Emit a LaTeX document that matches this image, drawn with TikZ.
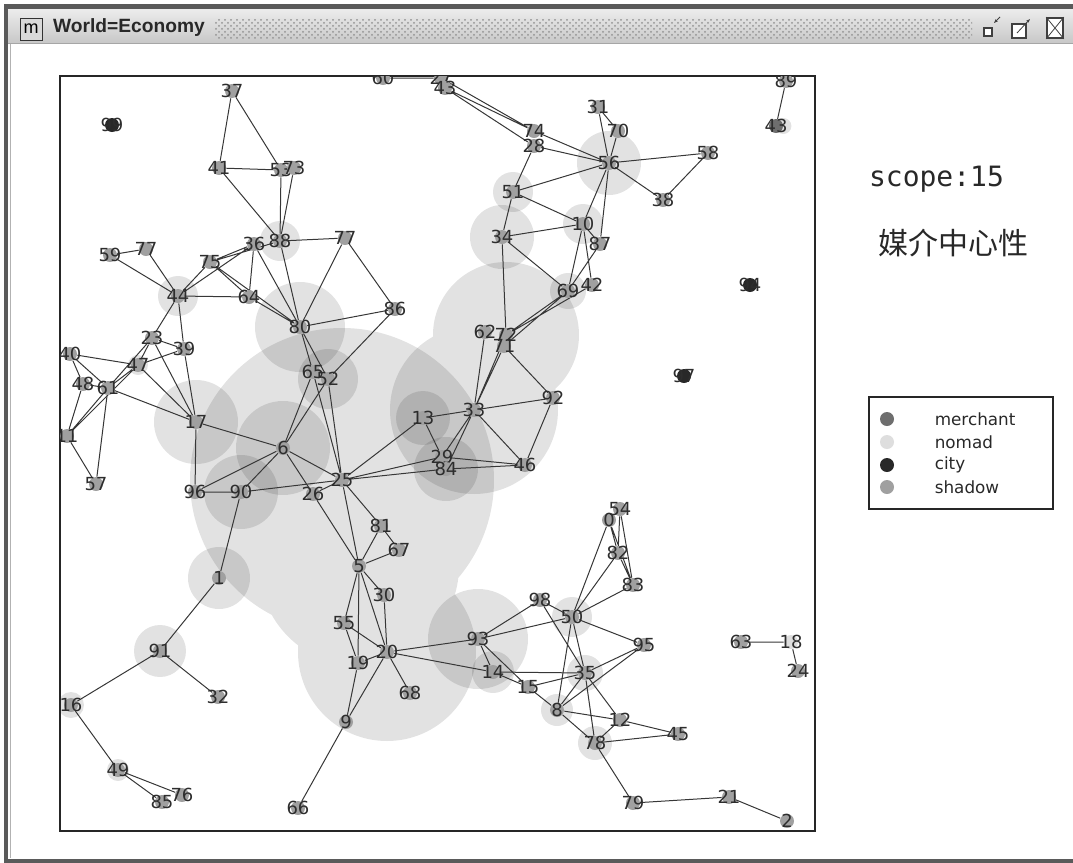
\documentclass[tikz,border=0pt]{standalone}
\usepackage{fontspec}
\setmainfont{DejaVu Sans}
\newfontfamily\monofont{DejaVu Sans Mono}
\newfontfamily\cjkfont{Noto Sans CJK SC}
\newfontfamily\titlefont{Liberation Sans}
\usepackage{tikz}
\usetikzlibrary{positioning, patterns, arrows.meta}
\pgfdeclarelayer{halo}
\pgfdeclarelayer{edges}
\pgfsetlayers{halo,edges,main}
\definecolor{framegray}{RGB}{90, 90, 90}
\definecolor{barlight}{RGB}{236, 236, 236}
\definecolor{bardark}{RGB}{200, 200, 200}
\definecolor{titletext}{RGB}{40, 40, 40}
\definecolor{shadowgray}{RGB}{160, 160, 160}
\definecolor{merchantgray}{RGB}{110, 110, 110}
\definecolor{nomadgray}{RGB}{222, 222, 222}
\definecolor{citygray}{RGB}{40, 40, 40}
\definecolor{linkgray}{RGB}{55, 55, 55}
\definecolor{labelgray}{RGB}{45, 45, 45}
\tikzstyle{agent} = [
    circle,
    inner sep=0pt,
    minimum size=7pt,
    fill=shadowgray
]
\tikzstyle{city} = [agent, fill=citygray]
\tikzstyle{merchant} = [agent, fill=merchantgray]
\tikzstyle{nomad} = [agent, fill=nomadgray]
\tikzstyle{tag} = [
    inner sep=0pt,
    text=labelgray,
    font=\fontsize{9}{10}\selectfont
]
\tikzstyle{halo} = [
    fill=black,
    fill opacity=0.115
]
\tikzstyle{link} = [
    draw=linkgray,
    line width=0.5pt
]
\tikzstyle{legtext} = [
    inner sep=0pt,
    anchor=west,
    text=titletext,
    font=\fontsize{8.4}{9}\selectfont
]
\tikzset{num/.style={label={[tag]center:#1}}}

\begin{document}
\begin{tikzpicture}[x=0.5pt, y=-0.5pt]
    \useasboundingbox (0,0) rectangle (1073,863);
    % Window frame
    \fill[framegray] (4,4) rectangle (1073,9);
    \shade[top color=barlight, bottom color=bardark] (8,9) rectangle (1073,43);
    \fill[pattern=crosshatch dots, pattern color=gray!85] (215,19) rectangle (972,38);
    \draw[gray!70] (8,43.5) -- (1073,43.5);
    \fill[framegray] (4,9) rectangle (8,863);
    \draw[gray!60] (10,44) -- (10,858);
    \fill[framegray] (4,859) rectangle (1073,863);
    \node[draw=gray!40!black, fill=gray!30, minimum width=11pt, minimum height=11pt, inner sep=0pt, font=\titlefont\small] (icon) at (31,29) {m};
    \node[anchor=west, text=titletext, font=\titlefont\bfseries\fontsize{9.6}{11}\selectfont] (title) at (46,28) {World=Economy};
    \node[draw=black!75, fill=white, line width=0.8pt, minimum size=4pt, inner sep=0pt] (minbtn) at (988,32) {};
    \draw[black!75, -{Stealth[length=2pt]}] (1000,17) -- (994,23);
    \node[draw=black!75, fill=white, line width=0.8pt, minimum width=7pt, minimum height=7pt, inner sep=0pt] (maxbtn) at (1019,31) {};
    \draw[black!75, -{Stealth[length=2pt]}] (1017,33) -- (1030,19);
    \node[draw=black!75, fill=white, line width=0.8pt, minimum width=8pt, minimum height=10pt, inner sep=0pt] (closebtn) at (1055,28) {};
    \draw[black!75] (closebtn.north west) -- (closebtn.south east) (closebtn.north east) -- (closebtn.south west);

    % Plot area
    \draw[black!85, line width=0.7pt] (60,76) rectangle (815,831);
    \begin{scope}
        \clip (60,76) rectangle (815,831);
        % Nodes
        \node[agent, num=60] (n60) at (383,78) {};
        \node[agent, num=27] (n27) at (441,78) {};
        \node[agent, num=43] (n43) at (445,88) {};
        \node[agent, num=37] (n37) at (232,91) {};
        \node[city, num=99] (n99) at (112,125) {};
        \node[agent, num=74] (n74) at (534,131) {};
        \node[agent, num=28] (n28) at (534,146) {};
        \node[agent, num=31] (n31) at (598,107) {};
        \node[agent, num=70] (n70) at (618,131) {};
        \node[agent, num=56] (n56) at (609,163) {};
        \node[agent, num=58] (n58) at (708,153) {};
        \node[agent, num=89] (n89) at (786,81) {};
        \node[merchant, num=43] (n43b) at (776,126) {};
        \node[agent, num=41] (n41) at (219,168) {};
        \node[agent, num=53] (n53) at (281,170) {};
        \node[agent, num=73] (n73) at (294,168) {};
        \node[agent, num=51] (n51) at (513,192) {};
        \node[agent, num=38] (n38) at (663,200) {};
        \node[agent, num=10] (n10) at (583,224) {};
        \node[agent, num=34] (n34) at (502,237) {};
        \node[agent, num=87] (n87) at (600,244) {};
        \node[agent, num=36] (n36) at (254,244) {};
        \node[agent, num=88] (n88) at (280,241) {};
        \node[agent, num=77] (n77) at (345,238) {};
        \node[agent, num=59] (n59) at (110,255) {};
        \node[agent, num=77] (n77b) at (146,249) {};
        \node[agent, num=75] (n75) at (210,262) {};
        \node[agent, num=44] (n44) at (178,296) {};
        \node[agent, num=64] (n64) at (249,297) {};
        \node[agent, num=69] (n69) at (568,291) {};
        \node[agent, num=42] (n42) at (592,285) {};
        \node[city, num=94] (n94) at (750,285) {};
        \node[agent, num=80] (n80) at (300,327) {};
        \node[agent, num=86] (n86) at (395,309) {};
        \node[agent, num=62] (n62) at (485,332) {};
        \node[agent, num=72] (n72) at (506,335) {};
        \node[agent, num=71] (n71) at (504,346) {};
        \node[agent, num=23] (n23) at (152,338) {};
        \node[agent, num=39] (n39) at (184,349) {};
        \node[agent, num=40] (n40) at (70,354) {};
        \node[agent, num=47] (n47) at (138,365) {};
        \node[agent, num=48] (n48) at (83,384) {};
        \node[agent, num=61] (n61) at (108,388) {};
        \node[agent, num=65] (n65) at (313,372) {};
        \node[agent, num=52] (n52) at (328,379) {};
        \node[city, num=97] (n97) at (684,376) {};
        \node[agent, num=13] (n13) at (423,418) {};
        \node[agent, num=33] (n33) at (474,410) {};
        \node[agent, num=92] (n92) at (553,398) {};
        \node[agent, num=17] (n17) at (196,422) {};
        \node[agent, num=11] (n11) at (67,436) {};
        \node[agent, num=6] (n6) at (283,448) {};
        \node[agent, num=29] (n29) at (442,457) {};
        \node[agent, num=84] (n84) at (446,469) {};
        \node[agent, num=46] (n46) at (525,465) {};
        \node[agent, num=25] (n25) at (342,480) {};
        \node[agent, num=57] (n57) at (96,484) {};
        \node[agent, num=96] (n96) at (195,492) {};
        \node[agent, num=90] (n90) at (241,492) {};
        \node[agent, num=26] (n26) at (313,494) {};
        \node[agent, num=0] (n0) at (609,520) {};
        \node[agent, num=54] (n54) at (620,509) {};
        \node[agent, num=81] (n81) at (381,526) {};
        \node[agent, num=67] (n67) at (399,550) {};
        \node[agent, num=82] (n82) at (618,553) {};
        \node[agent, num=5] (n5) at (359,566) {};
        \node[agent, num=1] (n1) at (219,578) {};
        \node[agent, num=83] (n83) at (633,585) {};
        \node[agent, num=30] (n30) at (384,595) {};
        \node[agent, num=98] (n98) at (540,600) {};
        \node[agent, num=50] (n50) at (572,617) {};
        \node[agent, num=55] (n55) at (344,623) {};
        \node[agent, num=93] (n93) at (478,639) {};
        \node[agent, num=95] (n95) at (644,645) {};
        \node[agent, num=63] (n63) at (741,642) {};
        \node[nomad, num=18] (n18) at (791,642) {};
        \node[agent, num=91] (n91) at (160,651) {};
        \node[agent, num=20] (n20) at (387,652) {};
        \node[agent, num=19] (n19) at (358,663) {};
        \node[agent, num=24] (n24) at (798,671) {};
        \node[agent, num=14] (n14) at (493,672) {};
        \node[agent, num=35] (n35) at (585,673) {};
        \node[agent, num=15] (n15) at (528,687) {};
        \node[agent, num=68] (n68) at (410,693) {};
        \node[agent, num=32] (n32) at (218,697) {};
        \node[agent, num=16] (n16) at (71,705) {};
        \node[agent, num=8] (n8) at (557,710) {};
        \node[agent, num=12] (n12) at (620,720) {};
        \node[agent, num=9] (n9) at (346,722) {};
        \node[agent, num=45] (n45) at (678,734) {};
        \node[agent, num=78] (n78) at (595,743) {};
        \node[agent, num=49] (n49) at (118,770) {};
        \node[agent, num=76] (n76) at (182,795) {};
        \node[agent, num=85] (n85) at (162,802) {};
        \node[agent, num=21] (n21) at (729,797) {};
        \node[agent, num=79] (n79) at (633,803) {};
        \node[agent, num=66] (n66) at (298,808) {};
        \node[agent, num=2] (n2) at (787,821) {};

        % Betweenness circles
        \begin{pgfonlayer}{halo}
            \clip (60,76) rectangle (815,831);
            \fill[halo] (n25) circle (152) (n5) circle (100) (n20) circle (89);
            \fill[halo] (n33) circle (84) (n72) circle (73) (n93) circle (50);
            \fill[halo] (n6) circle (47) (n80) circle (45) (n17) circle (42);
            \fill[halo] (n90) circle (37) (n56) circle (32) (n34) circle (32);
            \fill[halo] (n84) circle (32) (n52) circle (30) (n1) circle (31);
            \fill[halo] (n13) circle (27) (n91) circle (26) (n14) circle (21);
            \fill[halo] (n88) circle (20) (n44) circle (20) (n51) circle (20);
            \fill[halo] (n10) circle (20) (n50) circle (20) (n69) circle (18);
            \fill[halo] (n35) circle (18) (n78) circle (17) (n8) circle (16);
            \fill[halo] (n16) circle (13) (n49) circle (11) (n47) circle (10);
            \fill[halo] (n43b.east) circle (8);
        \end{pgfonlayer}

        % Links
        \begin{pgfonlayer}{edges}
            \clip (60,76) rectangle (815,831);
            \draw[link] (n60) -- (n27) (n27) -- (n74) (n43) -- (n74) (n43) -- (n28) (n74) -- (n56) (n28) -- (n56) (n28) -- (n51);
            \draw[link] (n31) -- (n70) (n31) -- (n56) (n70) -- (n56) (n56) -- (n58) (n56) -- (n38) (n58) -- (n38);
            \draw[link] (n56) -- (n51) (n56) -- (n10) (n56) -- (n87) (n51) -- (n34) (n51) -- (n10);
            \draw[link] (n34) -- (n10) (n34) -- (n69) (n34) -- (n72) (n10) -- (n69) (n10) -- (n42) (n10) -- (n87) (n87) -- (n69);
            \draw[link] (n72) -- (n69) (n71) -- (n69) (n72) -- (n42) (n89) -- (n43b);
            \draw[link] (n37) -- (n41) (n37) -- (n53) (n41) -- (n53) (n41) -- (n88) (n53) -- (n88) (n73) -- (n88) (n88) -- (n80);
            \draw[link] (n88) -- (n77) (n77) -- (n80) (n77) -- (n86) (n80) -- (n86);
            \draw[link] (n59) -- (n77b) (n59) -- (n44) (n77b) -- (n44) (n75) -- (n36) (n75) -- (n88) (n44) -- (n75) (n44) -- (n36);
            \draw[link] (n75) -- (n64) (n75) -- (n80) (n36) -- (n64) (n36) -- (n80) (n64) -- (n80) (n44) -- (n64);
            \draw[link] (n44) -- (n23) (n44) -- (n39) (n80) -- (n65) (n80) -- (n52) (n86) -- (n52);
            \draw[link] (n23) -- (n39) (n23) -- (n47) (n23) -- (n61) (n23) -- (n17) (n39) -- (n17) (n39) -- (n47);
            \draw[link] (n40) -- (n47) (n40) -- (n48) (n40) -- (n61) (n47) -- (n61) (n47) -- (n11) (n61) -- (n11);
            \draw[link] (n48) -- (n11) (n48) -- (n61) (n61) -- (n17) (n61) -- (n57) (n11) -- (n57) (n47) -- (n17);
            \draw[link] (n17) -- (n96) (n17) -- (n6) (n96) -- (n90) (n96) -- (n6) (n90) -- (n6) (n90) -- (n25) (n90) -- (n1);
            \draw[link] (n6) -- (n65) (n6) -- (n52) (n6) -- (n25) (n6) -- (n26) (n26) -- (n25) (n26) -- (n5);
            \draw[link] (n65) -- (n25) (n52) -- (n25) (n25) -- (n13) (n25) -- (n29) (n25) -- (n84) (n25) -- (n5) (n25) -- (n81);
            \draw[link] (n81) -- (n67) (n81) -- (n5) (n5) -- (n67);
            \draw[link] (n62) -- (n33) (n72) -- (n33) (n71) -- (n33) (n33) -- (n29) (n33) -- (n84) (n71) -- (n92);
            \draw[link] (n33) -- (n92) (n13) -- (n33) (n13) -- (n29) (n33) -- (n46) (n92) -- (n46) (n29) -- (n46) (n84) -- (n46);
            \draw[link] (n1) -- (n91) (n91) -- (n16) (n91) -- (n32) (n16) -- (n49) (n49) -- (n85) (n49) -- (n76);
            \draw[link] (n5) -- (n30) (n5) -- (n55) (n5) -- (n19) (n5) -- (n20) (n30) -- (n20) (n55) -- (n19) (n55) -- (n20);
            \draw[link] (n19) -- (n20) (n19) -- (n9) (n20) -- (n9) (n20) -- (n68) (n9) -- (n66) (n20) -- (n93) (n20) -- (n14);
            \draw[link] (n0) -- (n82) (n54) -- (n82) (n54) -- (n83) (n0) -- (n83) (n82) -- (n83) (n0) -- (n50) (n82) -- (n50) (n83) -- (n50);
            \draw[link] (n98) -- (n93) (n98) -- (n50) (n98) -- (n35) (n93) -- (n50) (n93) -- (n14) (n93) -- (n15);
            \draw[link] (n14) -- (n35) (n14) -- (n15) (n15) -- (n35) (n15) -- (n8);
            \draw[link] (n50) -- (n95) (n50) -- (n8) (n50) -- (n35) (n35) -- (n95) (n8) -- (n95) (n35) -- (n8);
            \draw[link] (n35) -- (n12) (n35) -- (n78) (n8) -- (n12) (n8) -- (n78) (n12) -- (n45) (n12) -- (n78) (n78) -- (n45);
            \draw[link] (n78) -- (n79) (n79) -- (n21) (n21) -- (n2) (n63) -- (n18) (n18) -- (n24);
        \end{pgfonlayer}
    \end{scope}

    % Side texts
    \node[anchor=base west, text=titletext, font=\monofont\fontsize{14}{16}\selectfont] (scope) at (862,186) {scope:15};
    \node[anchor=west, text=titletext, font=\cjkfont\fontsize{15}{17}\selectfont] (measure) at (871,243) {媒介中心性};

    % Legend
    \draw[black!85, line width=0.6pt] (869,397) rectangle (1053,509);
    \node[merchant] (lgm) at (887,419) {};
    \node[nomad] (lgn) at (887,442) {};
    \node[city] (lgc) at (887,465) {};
    \node[agent] (lgs) at (887,487) {};
    \node[legtext, right=20pt of lgm] (lgmt) {merchant};
    \node[legtext, right=20pt of lgn] (lgnt) {nomad};
    \node[legtext, right=20pt of lgc] (lgct) {city};
    \node[legtext, right=20pt of lgs] (lgst) {shadow};
\end{tikzpicture}
\end{document}
